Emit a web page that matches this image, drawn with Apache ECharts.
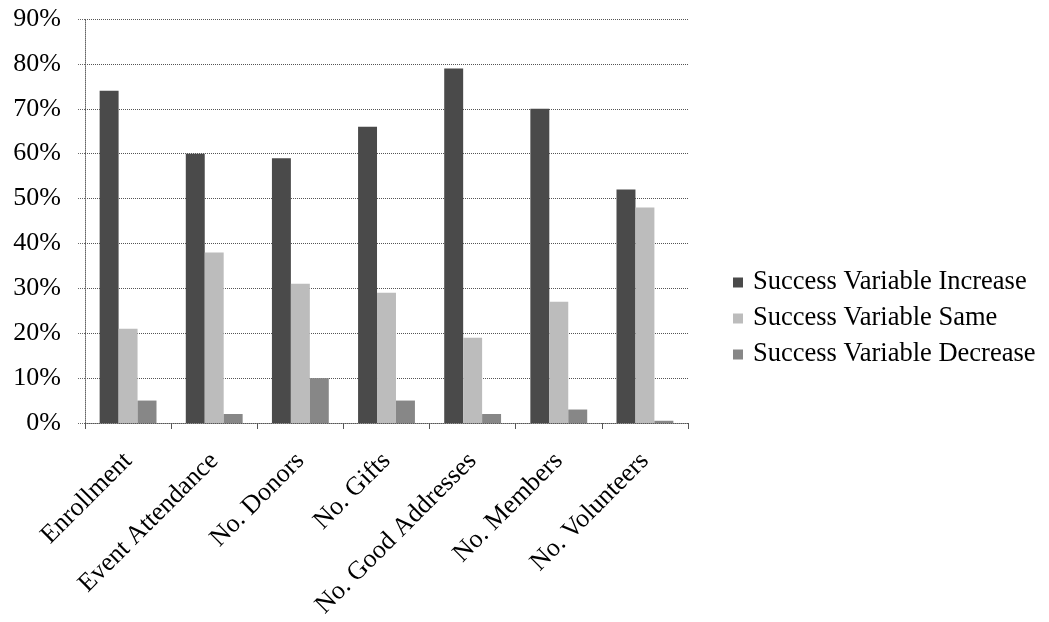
<!DOCTYPE html>
<html>
<head>
<meta charset="utf-8">
<script src="https://cdn.jsdelivr.net/npm/echarts@6/dist/echarts.min.js"></script>
<style>
  html, body { margin: 0; padding: 0; background: #fff; }
  #chart { width: 1049px; height: 622px; }
</style>
</head>
<body>
<div id="chart"></div>
<script>
// Share of organisations reporting each outcome, per success variable (%)
const categories = ['Enrollment', 'Event Attendance', 'No. Donors', 'No. Gifts',
  'No. Good Addresses', 'No. Members', 'No. Volunteers'];
const seriesNames = ['Success Variable Increase', 'Success Variable Same', 'Success Variable Decrease'];
const increaseValues = [74, 60, 59, 66, 79, 70, 52];
const sameValues = [21, 38, 31, 29, 19, 27, 48];
const decreaseValues = [5, 2, 10, 5, 2, 3, 0.5];
const yTicks = [0, 10, 20, 30, 40, 50, 60, 70, 80, 90];

const serif = '"Liberation Serif", "Times New Roman", serif';
const colors = ['#4a4a4a', '#bcbcbc', '#878787'];

const chart = echarts.init(document.getElementById('chart'), null, { renderer: 'canvas' });

const barSeries = [increaseValues, sameValues, decreaseValues].map((vals, i) => ({
  name: seriesNames[i],
  type: 'bar',
  data: vals,
  barGap: '0%',
  barCategoryGap: '34%',
  itemStyle: { color: colors[i] }
}));

chart.setOption({
  animation: false,
  backgroundColor: '#ffffff',
  textStyle: { fontFamily: serif, color: '#000' },
  grid: { left: 85, right: 361, top: 19, bottom: 199, containLabel: false },
  legend: {
    orient: 'vertical',
    left: 733,
    top: 269,
    padding: 0,
    itemWidth: 10,
    itemHeight: 10,
    itemGap: 9,
    icon: 'rect',
    textStyle: { fontFamily: serif, fontSize: 26.5, color: '#000', padding: [0, 0, 0, 5] },
    data: seriesNames
  },
  xAxis: {
    type: 'category',
    data: categories,
    axisLine: { show: true, lineStyle: { color: '#555', width: 1, type: 'dotted' } },
    axisTick: { show: true, length: 6, lineStyle: { color: '#555' } },
    axisLabel: {
      rotate: 45,
      interval: 0,
      margin: 34,
      fontFamily: serif,
      fontSize: 26,
      color: '#000'
    },
    splitLine: { show: false }
  },
  yAxis: {
    type: 'value',
    min: yTicks[0],
    max: yTicks[yTicks.length - 1],
    interval: 10,
    axisLine: { show: true, lineStyle: { color: '#666', width: 1, type: 'dotted' } },
    axisTick: { show: true, length: 8, lineStyle: { color: '#666', type: 'dotted' } },
    axisLabel: {
      margin: 24,
      fontFamily: serif,
      fontSize: 26,
      color: '#000',
      formatter: '{value}%'
    },
    splitLine: { show: true, lineStyle: { color: '#555', width: 1, type: 'dotted' } }
  },
  series: barSeries
});
</script>
</body>
</html>
